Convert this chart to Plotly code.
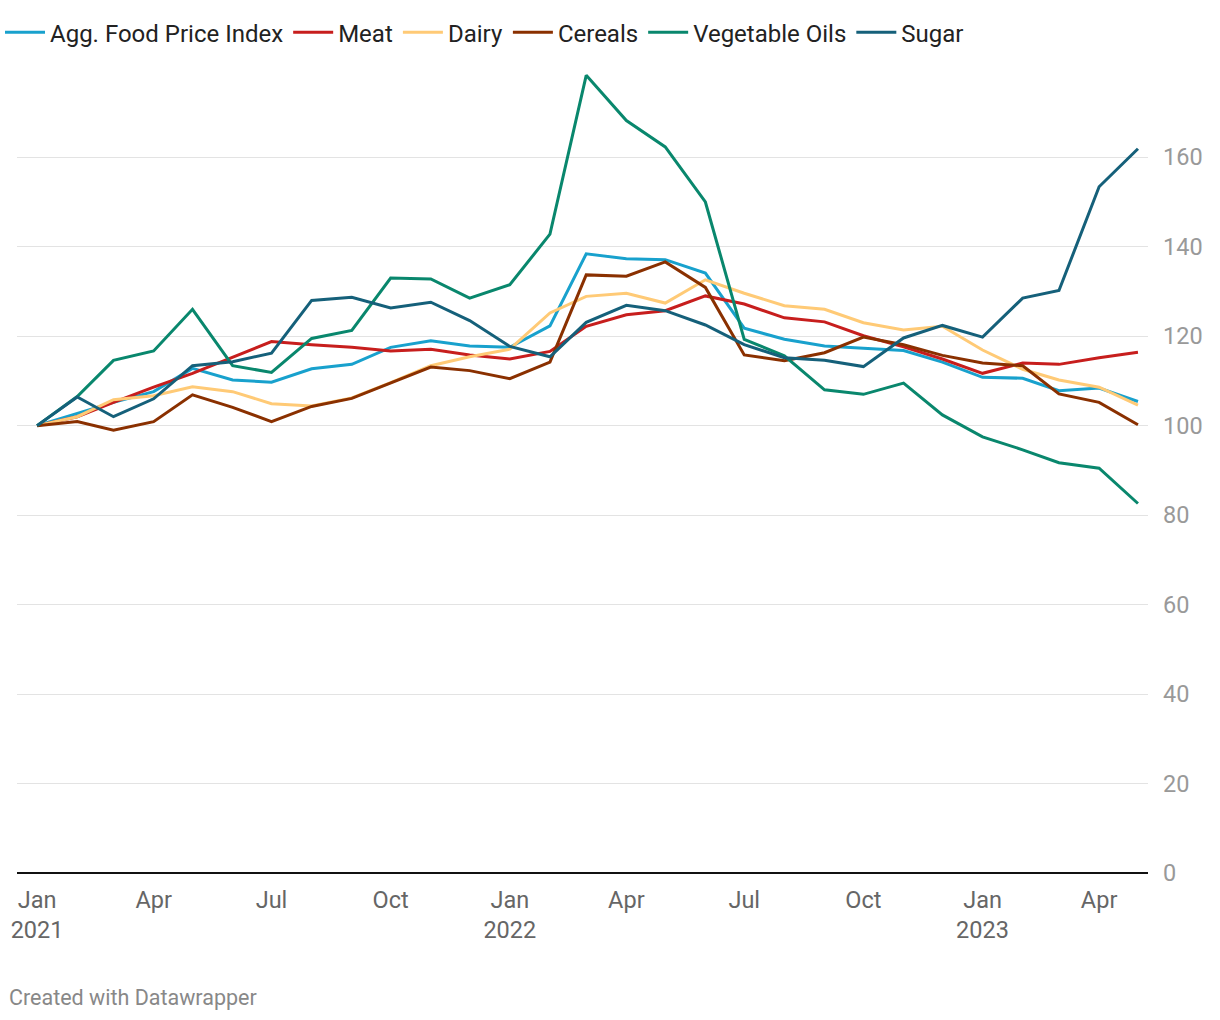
import plotly.graph_objects as go
import pandas as pd

dates = pd.date_range("2021-01-01", "2023-05-01", freq="MS")

agg = [100, 102.8, 105.2, 107.6, 112.8, 110.2, 109.7, 112.7, 113.7, 117.5,
       119.0, 117.8, 117.5, 122.3, 138.4, 137.3, 137.1, 134.1, 121.8, 119.3,
       117.8, 117.3, 116.8, 114.2, 110.8, 110.6, 107.8, 108.4, 105.4]
meat = [100, 102.0, 105.2, 108.6, 111.7, 115.3, 118.8, 118.1, 117.5, 116.7,
        117.1, 115.8, 114.9, 116.6, 122.2, 124.8, 125.7, 129.0, 127.2, 124.1,
        123.2, 120.1, 117.6, 114.9, 111.7, 114.0, 113.7, 115.2, 116.4]
dairy = [100, 102.0, 105.8, 106.7, 108.7, 107.6, 104.9, 104.4, 106.2, 109.6,
         113.4, 115.4, 117.1, 125.2, 128.9, 129.6, 127.4, 132.6, 129.6, 126.8,
         126.0, 123.0, 121.4, 122.2, 116.9, 112.6, 110.2, 108.6, 104.6]
cereals = [100, 100.9, 99.0, 100.9, 106.9, 104.1, 100.9, 104.3, 106.1, 109.5,
           113.1, 112.3, 110.5, 114.2, 133.7, 133.4, 136.6, 130.9, 115.8, 114.5,
           116.3, 119.8, 118.1, 115.7, 114.0, 113.4, 107.1, 105.2, 100.2]
veg_oils = [100, 106.5, 114.6, 116.7, 126.0, 113.4, 111.9, 119.5, 121.3, 133.0,
            132.8, 128.5, 131.5, 142.8, 178.3, 168.2, 162.3, 150.0, 119.3, 115.6,
            108.0, 107.0, 109.5, 102.4, 97.5, 94.6, 91.7, 90.5, 82.6]
sugar = [100, 106.4, 102.0, 106.0, 113.4, 114.3, 116.2, 128.0, 128.7, 126.3,
         127.6, 123.5, 117.7, 115.4, 123.1, 126.9, 125.7, 122.5, 118.1, 115.2,
         114.6, 113.2, 119.6, 122.4, 119.8, 128.5, 130.2, 153.4, 161.9]

series_names = ["Agg. Food Price Index", "Meat", "Dairy", "Cereals", "Vegetable Oils", "Sugar"]
series_values = [agg, meat, dairy, cereals, veg_oils, sugar]
colors = ["#18a1cd", "#c71e1d", "#ffca76", "#8a3000", "#09876d", "#15607a"]

x_tick_dates = ["2021-01-01", "2021-04-01", "2021-07-01", "2021-10-01",
                "2022-01-01", "2022-04-01", "2022-07-01", "2022-10-01",
                "2023-01-01", "2023-04-01"]
x_tick_labels = ["Jan<br>2021", "Apr", "Jul", "Oct", "Jan<br>2022", "Apr", "Jul", "Oct",
                 "Jan<br>2023", "Apr"]
y_ticks = [0, 20, 40, 60, 80, 100, 120, 140, 160]

fig = go.Figure()
for name, vals, col in zip(series_names, series_values, colors):
    fig.add_trace(go.Scatter(x=dates, y=vals, name=name, mode="lines",
                             line=dict(color=col, width=3)))

fig.update_layout(
    width=1220, height=1020,
    margin=dict(l=17, r=72, t=70, b=147, autoexpand=False),
    plot_bgcolor="white", paper_bgcolor="white",
    font=dict(family="Roboto", size=20, color="#222222"),
    showlegend=True,
    legend=dict(orientation="h", x=0.0, xref="container", y=0.99, yref="container",
                xanchor="left", yanchor="top", font=dict(size=24, color="#222222"),
                itemwidth=40, tracegroupgap=0, bgcolor="rgba(0,0,0,0)"),
    xaxis=dict(type="date", range=["2020-12-16 12:00", "2023-05-08 18:00"],
               tickvals=x_tick_dates, ticktext=x_tick_labels,
               showgrid=False, zeroline=False, showline=False, ticks="",
               tickfont=dict(size=23.5, color="#666666"), ticklabelstandoff=10,
               fixedrange=True),
    yaxis=dict(range=[0, 179.5], side="right", tickvals=y_ticks,
               showgrid=True, gridcolor="#e3e3e3", gridwidth=1.3,
               zeroline=True, zerolinecolor="#111111", zerolinewidth=2,
               ticks="", tickfont=dict(size=23.5, color="#999999"),
               ticklabelstandoff=14, fixedrange=True),
    annotations=[dict(text="Created with Datawrapper", xref="paper", yref="paper",
                      x=0, y=0, xshift=-10, yshift=-124, xanchor="left", yanchor="middle",
                      showarrow=False, font=dict(size=21.5, color="#888888"))],
)

fig.write_html("out.html")
